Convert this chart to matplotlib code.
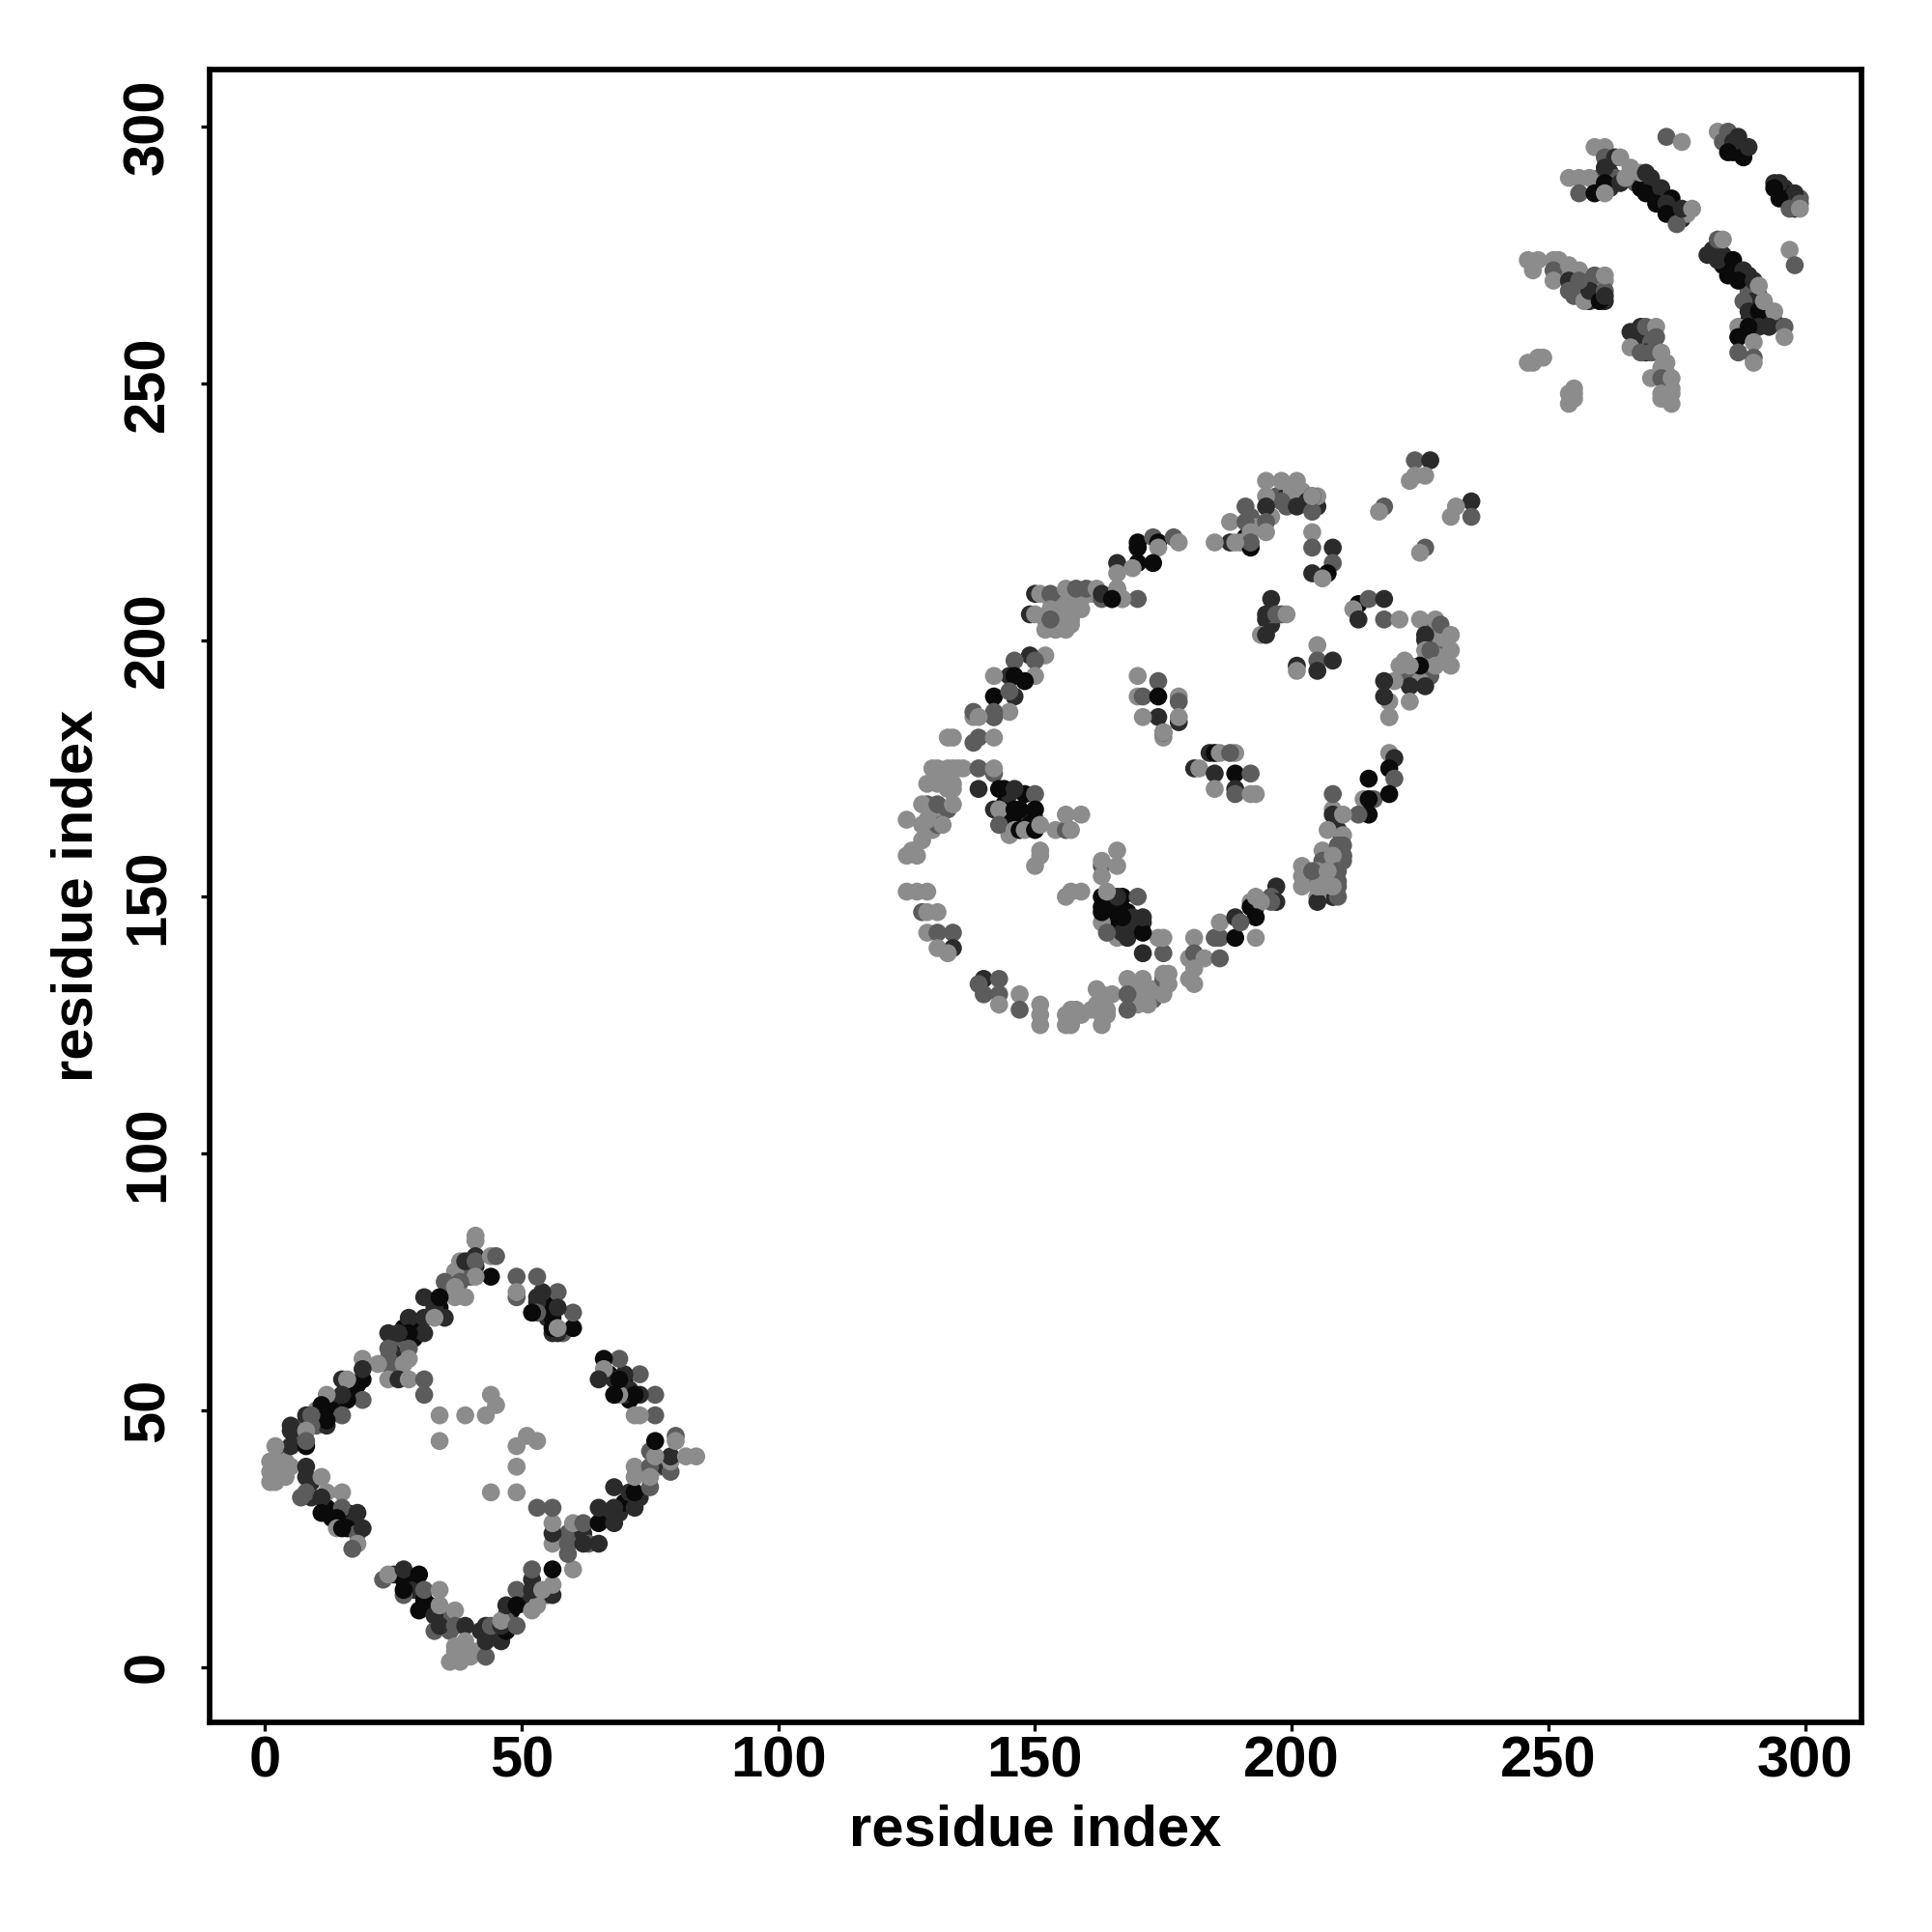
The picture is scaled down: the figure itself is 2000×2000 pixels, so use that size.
import matplotlib
matplotlib.use("Agg")
import matplotlib.pyplot as plt

# shade codes: 0 light, 1 medium, 2 dark, 3 near black
shade_colors = ["#8c8c8c", "#5c5c5c", "#2b2b2b", "#0a0a0a"]
tick_values = [0, 50, 100, 150, 200, 250, 300]
axis_title = "residue index"

dom1_x = [41,41,38,39,41,41,44,45,44,41,
          38,35,37,37,39,31,34,35,31,33,
          28,31,28,26,24,24,28,24,24,28,
          27,19,22,24,26,28,31,31,19,19,
          15,16,19,16,15,15,12,11,12,12,
          8,9,5,5,9,8,5,8,8,2,
          1,1,1,3,2,5,4,8,8,11,
          8,7,12,11,15,11,15,14,18,14,
          15,19,18,17,23,24,27,30,27,27,
          31,34,30,33,34,37,33,34,37,39,
          37,39,36,38,40,37,43,43,46,43,
          44,47,46,46,49,47,49,49,52,53,
          52,52,56,54,56,56,60,59,56,59,
          62,65,56,56,53,56,60,62,65,65,
          68,68,72,68,72,75,72,75,72,75,
          79,79,79,76,84,82,76,80,80,76,
          72,73,76,73,72,73,69,68,70,69,
          69,66,66,65,60,60,57,57,54,53,
          53,53,49,49,49,56,56,57,52,34,
          39,43,44,45,34,51,53,49,49,49,
          44]
dom1_y = [84,83,79,79,80,79,80,80,76,76,
          75,75,74,72,72,72,72,68,68,68,
          68,65,65,65,65,62,62,60,59,60,
          59,60,59,56,56,56,56,53,56,58,
          56,56,52,52,53,49,53,51,47,48,
          49,49,47,46,47,46,43,43,44,43,
          40,38,36,39,38,39,37,39,37,37,
          34,33,34,33,34,30,31,29,30,27,
          27,27,24,23,17,18,19,18,14,15,
          15,15,11,10,12,11,7,8,8,8,
          4,5,1,1,2,3,2,5,5,8,
          8,7,8,9,8,12,15,12,11,12,
          15,19,14,15,16,19,19,22,24,24,
          24,24,26,28,31,31,28,28,28,31,
          28,31,31,35,34,35,39,39,37,37,
          38,40,41,41,41,41,44,45,44,49,
          49,49,53,53,53,57,53,53,57,56,
          60,60,58,56,66,69,73,70,73,72,
          69,76,76,72,73,65,66,66,69,49,
          49,49,53,51,44,45,44,43,39,34,
          34]
dom1_s = [0,0,0,2,2,1,0,1,3,0,
          1,1,0,0,0,2,3,2,2,0,
          2,2,3,2,2,1,1,1,1,0,
          0,0,0,0,2,0,1,1,3,2,
          2,0,1,3,2,1,0,3,2,3,
          2,1,2,2,1,0,2,3,1,0,
          0,0,0,0,0,0,0,2,2,0,
          1,1,0,2,0,3,1,3,2,0,
          3,2,0,1,1,0,2,3,1,3,
          1,0,3,2,0,0,1,2,1,2,
          0,0,0,0,0,0,1,2,2,2,
          1,3,2,0,1,2,1,3,0,0,
          2,1,2,0,0,3,0,1,0,1,
          2,2,2,0,1,1,0,1,3,2,
          2,2,2,2,3,1,0,1,0,0,
          1,0,2,0,0,0,3,1,0,1,
          0,0,1,2,3,1,0,3,2,3,
          1,3,0,2,3,1,1,2,2,2,
          1,1,1,1,0,2,3,0,3,0,
          0,0,0,0,0,0,0,0,0,0,
          0]
dom1_fill_x = [41,40,38,37,36,34,33,30,27,29,
               26,26,27,25,25,18,17,14,13,10,
               10,8,6,7,3,2,3,4,2,9,
               9,12,13,16,17,16,18,25,27,28,
               29,31,32,35,36,38,39,41,38,42,
               44,45,47,48,47,50,51,51,52,53,
               55,60,61,59,62,63,67,69,70,71,
               73,74,75,77,78,71,70,70,67,68,
               71,55,55,56,54,58,57,53]
dom1_fill_y = [78,76,78,77,74,70,70,67,66,64,
               63,60,61,61,58,55,54,52,50,50,
               47,48,45,46,42,40,37,40,36,36,
               33,31,29,30,28,27,26,18,17,16,
               15,13,12,10,7,3,3,3,2,7,
               6,6,10,11,9,13,12,14,17,14,
               14,26,27,26,26,24,29,30,32,34,
               33,38,42,39,39,52,53,56,57,56,
               54,71,68,68,70,65,65,71]
dom1_fill_s = [2,1,1,0,1,3,2,3,3,3,
               1,0,0,2,1,3,3,2,3,0,
               1,1,2,1,1,0,0,0,0,2,
               2,3,3,3,2,3,1,2,3,3,
               2,3,3,1,1,0,0,0,0,2,
               1,2,2,3,1,0,0,2,2,2,
               1,0,0,1,2,1,2,2,3,2,
               2,0,1,0,2,3,2,3,3,2,
               2,3,2,3,3,1,2,2]

dom2_x = [133,134,138,142,139,138,142,131,134,135,
          139,142,142,129,132,134,139,143,146,150,
          128,131,134,142,143,143,146,150,147,125,
          128,129,132,143,146,147,148,150,151,154,
          156,156,159,157,128,126,125,127,151,150,
          151,125,127,129,128,129,131,129,131,134,
          134,131,133,140,143,139,140,143,143,147,
          147,151,151,151,156,156,158,162,163,162,
          163,163,168,168,168,171,172,172,175,175,
          175,175,174,171,171,171,167,167,164,163,
          167,170,166,163,164,156,157,159,163,163,
          166,166,163,181,180,181,180,181,181,183,
          186,186,185,186,189,189,193,193,190,193,
          184,185,186,189,188,181,182,185,189,192,
          185,189,189,192,193,170,174,170,171,174,
          178,178,178,178,174,171,175,175,175,219,
          220,219,215,220,219,208,195,198,201,198,
          195,191,195,201,204,204,204,188,191,195,
          195,192,192,192,188,189,185,204,204,208,
          208,204,207,206,196,194,195,195,197,199,
          201,201,205,205,205,208,213,212,213,215,
          218,218,221,225,228,229,226,231,231,226,
          227,231,228,225,223,221,226,223,220,218,
          219,218,219,223,219,224,227,223,224,226,
          218,217,235,235,232,231,226,225,170,170,
          173,174,177,178,174,166,170,173,169,166,
          166,165,167,170,150,151,153,156,158,160,
          162,163,166,167,165,149,150,153,157,159,
          152,154,156,153,152,149,150,146,145,146,
          142,150,148,142,146,145,145,142,142,138,139]
dom2_y = [181,181,185,185,181,180,181,175,175,175,
          175,174,175,172,172,171,171,171,171,170,
          168,168,168,167,167,167,167,167,167,165,
          164,165,164,164,163,163,163,163,164,163,
          163,166,166,163,161,159,158,158,159,156,
          158,151,151,151,147,147,147,143,143,143,
          140,140,139,134,134,133,131,131,129,131,
          128,129,127,125,127,125,128,132,131,129,
          125,127,134,131,128,134,131,129,135,131,
          139,142,142,139,143,146,143,146,143,147,
          150,150,150,150,151,150,151,151,156,154,
          156,159,157,142,138,139,134,133,136,138,
          142,138,142,145,146,142,142,146,145,150,
          178,178,178,178,178,175,175,174,174,174,
          171,171,170,170,170,193,192,189,189,189,
          189,188,184,185,185,185,181,182,182,178,
          177,175,173,173,170,170,231,231,231,227,
          228,226,226,226,225,228,228,223,223,223,
          221,218,221,219,219,219,219,221,218,218,
          215,213,213,212,208,201,201,205,205,205,
          195,194,199,196,194,196,207,206,204,208,
          208,204,204,204,204,203,201,201,198,198,
          198,195,195,195,195,195,191,191,192,192,
          188,189,185,188,185,235,235,231,232,232,
          226,225,227,224,226,224,218,217,219,218,
          220,219,220,219,218,215,215,215,214,213,
          210,208,208,208,209,209,209,210,210,210,
          210,209,210,208,208,205,205,206,206,206,
          202,202,202,204,197,197,196,196,193,193,
          193,193,192,189,189,190,186,186,185,186,185]
dom2_s = [0,0,0,1,1,1,0,0,0,0,
          1,1,0,0,0,0,2,3,2,1,
          0,1,0,2,3,0,3,3,3,0,
          0,0,0,1,0,3,0,3,0,0,
          1,0,0,0,0,0,0,0,0,0,
          0,0,0,0,1,0,0,0,1,1,
          2,0,0,2,1,1,1,1,0,0,
          1,0,0,0,0,0,0,0,0,0,
          0,0,0,1,1,0,0,0,0,0,
          1,0,0,2,3,2,2,3,1,3,
          3,1,2,3,0,0,0,0,1,0,
          0,0,0,0,0,1,0,0,0,0,
          1,1,1,0,2,3,0,3,1,0,
          2,3,0,0,1,2,0,2,3,1,
          0,2,1,0,0,0,1,0,1,3,
          0,1,2,0,2,0,0,2,0,0,
          2,3,3,1,3,1,0,0,0,1,
          0,1,2,2,1,2,0,0,1,1,
          0,3,0,1,2,0,0,0,1,2,
          1,2,3,0,2,0,2,2,1,0,
          2,0,0,1,2,2,3,0,2,1,
          2,1,0,0,0,1,2,0,0,0,
          1,0,0,3,0,0,2,2,0,2,
          0,2,0,0,0,1,2,0,0,0,
          1,0,2,1,0,0,1,0,3,3,
          1,3,1,0,0,2,3,3,0,0,
          0,2,0,1,2,0,1,0,1,1,
          0,2,0,0,3,2,0,0,0,0,
          0,0,0,1,0,2,1,1,2,3,
          0,0,3,3,2,1,0,1,1,1,0]
dom2_fill_x = [130,133,136,131,133,134,131,130,131,129,
               130,133,163,164,164,165,169,169,170,171,
               173,173,175,175,176,176,170,157,157,159,
               161,153,155,157,154,155,155,157,156,154,
               159,161,163,153,152,157,227,228,226,227,
               229,230,229,230,228,226,227,222,224,225,
               222,197,199,200,202,203,205,205,199,196,
               192,193,191,190,144,145,146,148,149,148,
               144,145,149,150,145,164,165,168,169,165,
               166,168,166,163,168,171,163,195,196,196,
               198,214,216,209,209,209,208,208,209,209,
               210,210,206,206,206,205,205,205,204,202,
               202,202,206,205,197,196,192,192,
               215,213,215,208,208,210,207,210,209,210,
               210,208,209,206,205,204,197,196,193,194,
               209,208,207,206,208]
dom2_fill_y = [175,175,175,172,171,172,165,163,164,168,
               167,167,129,128,127,131,132,130,132,131,
               132,130,133,134,133,135,129,125,128,127,
               128,208,208,209,206,205,204,204,207,203,
               208,209,208,203,204,203,203,201,200,199,
               200,199,197,196,197,196,193,194,193,192,
               196,228,228,229,229,227,226,228,226,224,
               224,222,220,219,168,165,165,165,165,170,
               171,170,164,165,162,149,148,147,146,145,
               147,144,142,145,142,145,148,204,203,205,
               205,169,169,163,163,156,150,150,153,150,
               158,157,159,157,157,154,150,149,153,156,
               154,152,153,152,152,150,149,148,
               166,166,169,167,166,166,163,162,160,160,
               158,158,155,155,155,155,149,149,148,149,
               152,152,155,152,152]
dom2_fill_s = [0,0,0,0,0,0,0,0,1,1,
               0,1,1,0,0,0,1,1,0,0,
               0,1,0,1,0,0,0,0,0,0,
               0,0,1,0,0,1,0,0,0,0,
               0,0,1,1,0,0,1,0,2,1,
               0,0,1,0,0,0,1,1,1,0,
               0,1,2,0,0,2,2,0,1,0,
               1,0,3,0,3,3,3,3,2,3,
               3,2,3,3,0,3,3,3,2,3,
               3,2,0,0,2,2,3,2,2,1,
               1,0,1,0,2,2,2,2,1,1,
               1,1,0,0,1,0,0,2,1,0,
               0,0,0,0,2,1,0,3,
               3,1,3,0,2,0,0,0,1,1,
               1,0,1,1,0,1,2,1,3,0,
               1,1,0,0,0]

dom3_x = [273,276,283,285,284,286,287,285,288,289,
          295,294,298,295,298,297,299,299,297,298,
          259,261,261,261,263,264,254,256,258,256,
          259,261,261,264,266,265,268,269,270,269,
          272,271,274,273,273,275,276,278,283,284,
          281,283,286,285,288,287,290,290,291,288,
          289,291,291,292,294,293,296,296,287,289,
          287,290,287,290,290,246,248,251,247,251,
          251,254,256,259,254,254,255,257,258,260,
          261,261,261,256,266,268,269,271,271,266,
          268,270,272,273,270,272,274,272,274,274,
          272,246,248,249,247,255,254,254]
dom3_y = [298,297,299,299,297,297,298,295,294,296,
          289,288,287,286,284,284,285,284,276,273,
          296,296,294,292,294,294,290,290,290,287,
          287,289,287,289,292,290,291,291,290,287,
          288,285,286,285,283,281,284,284,278,278,
          275,274,274,271,272,270,270,266,269,266,
          264,264,261,266,264,261,261,259,261,261,
          259,258,256,255,254,274,274,274,272,272,
          270,273,272,271,270,268,267,266,268,266,
          268,267,271,270,260,261,261,261,259,257,
          256,256,256,254,251,251,251,248,248,246,
          247,254,255,255,254,249,248,246]
dom3_s = [1,0,0,1,1,2,2,3,3,2,
          2,3,2,3,2,1,1,0,0,1,
          0,0,1,2,2,0,0,0,0,1,
          3,3,0,2,0,0,0,2,2,3,
          2,3,3,2,3,1,2,0,1,0,
          2,2,3,3,2,3,2,2,0,1,
          2,3,2,0,0,2,1,0,0,3,
          3,0,1,1,0,0,0,0,0,1,
          0,0,0,1,2,1,1,0,2,3,
          1,2,0,1,2,2,1,0,1,0,
          1,1,0,0,0,1,0,0,0,0,
          0,0,0,0,0,0,0,0]
dom3_fill_x = [266,267,268,270,271,272,273,274,275,276,
               277,262,263,262,260,282,284,284,286,288,
               289,291,292,294,289,289,290,292,284,285,
               286,287,288,287,288,294,295,296,297,296,
               298,299,252,253,255,255,256,257,258,259,
               258,259,260,261,260,261,267,267,268,268,
               269,270,271,269,273,272,274,273,273,255,255]
dom3_fill_y = [291,289,288,288,287,286,284,284,283,282,
               283,291,290,288,290,276,275,273,272,270,
               271,267,263,262,268,262,261,264,298,297,
               295,296,295,295,296,289,288,288,286,287,
               285,286,274,272,270,271,268,270,270,268,
               266,267,269,270,267,266,259,257,259,258,
               259,258,256,256,252,253,249,249,248,248,247]
dom3_fill_s = [1,1,3,3,2,3,2,2,3,2,
               0,2,1,2,1,2,2,3,3,3,
               2,2,2,2,1,3,2,2,1,3,
               3,2,2,3,3,2,3,2,2,3,
               1,1,0,0,1,2,1,2,1,1,
               2,3,2,0,3,2,2,1,1,2,
               2,1,0,2,0,0,0,0,0,0,0]

bold = dict(family=["Liberation Sans", "DejaVu Sans"], fontweight="bold")

fig = plt.figure(figsize=(20, 20), dpi=100)
ax = fig.add_axes([217 / 2000, 1 - 1783 / 2000, 1710 / 2000, 1711.5 / 2000])

layers = [
    (dom1_fill_x, dom1_fill_y, dom1_fill_s), (dom2_fill_x, dom2_fill_y, dom2_fill_s),
    (dom3_fill_x, dom3_fill_y, dom3_fill_s),
    (dom1_x, dom1_y, dom1_s), (dom2_x, dom2_y, dom2_s), (dom3_x, dom3_y, dom3_s),
]
for xs, ys, ss in layers:
    ax.scatter(xs, ys, s=180, c=[shade_colors[v] for v in ss], linewidths=0, zorder=3)

ax.set_xlim(-10.8, 311)
ax.set_ylim(-10.8, 311.2)
ax.set_xticks(tick_values)
ax.set_yticks(tick_values)
ax.set_xticklabels([str(t) for t in tick_values], fontsize=43, **bold)
ax.set_yticklabels([str(t) for t in tick_values], fontsize=43, rotation=90, va="center", **bold)
ax.tick_params(axis="both", length=6.5, width=2.4)
ax.tick_params(axis="x", pad=3)
ax.tick_params(axis="y", pad=19)
for spine in ax.spines.values():
    spine.set_linewidth(4.1)
ax.set_xlabel(axis_title, fontsize=43, va="center", **bold)
ax.set_ylabel(axis_title, fontsize=43, va="center", **bold)
ax.xaxis.set_label_coords(0.5, -0.0655)
ax.yaxis.set_label_coords(-0.080, 0.5)

fig.savefig("out.png", dpi=100, facecolor="white")
